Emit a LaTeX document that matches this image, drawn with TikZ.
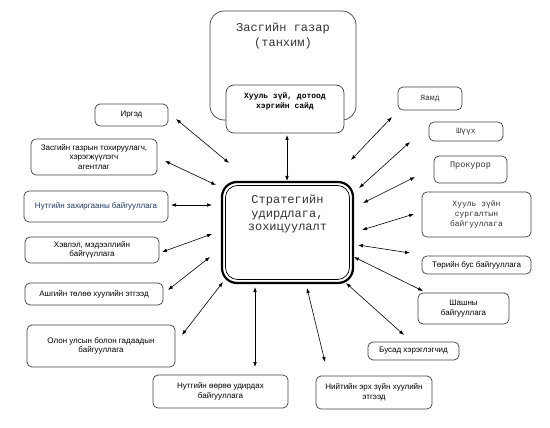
\documentclass[tikz,border=0pt]{standalone}
\usepackage{fontspec}
\setmainfont{Liberation Sans}
\newfontfamily\monof{Liberation Mono}
\usetikzlibrary{arrows.meta}
\definecolor{navy}{HTML}{1F3864}
\definecolor{edge}{HTML}{404040}
\definecolor{monotext}{HTML}{333333}
\tikzset{
  box/.style={draw=edge, line width=0.7pt, rounded corners=5pt, fill=white, inner sep=0pt},
  stxt/.style={font=\fontsize{8}{9.6}\selectfont, align=center, inner sep=0pt},
  mtxt/.style={font=\monof\fontsize{8}{10}\selectfont, align=center, inner sep=0pt, text=monotext},
  arr/.style={{Latex[length=5pt,width=3.6pt]}-{Latex[length=5pt,width=3.6pt]}, line width=0.6pt},
}
\begin{document}
\begin{tikzpicture}[x=1pt,y=-1pt]
\useasboundingbox (0,0) rectangle (550,428);
% top government box
\node[box, rounded corners=14pt, minimum width=146pt, minimum height=109pt] (gov) at (283,65.5) {};
\node[font=\monof\fontsize{12}{15}\selectfont, align=center, inner sep=0pt, text=monotext] (govt) at (283,36) {Засгийн газар\\(танхим)};
\node[box, rounded corners=8pt, minimum width=118pt, minimum height=48pt] (min) at (285,109) {};
\node[font=\monof\bfseries\fontsize{8}{10}\selectfont, align=center, inner sep=0pt] (mint) at (285,101) {Хууль зүй, дотоод\\хэргийн сайд};
% center box
\node[draw=black, line width=2.2pt, rounded corners=15pt, minimum width=131pt, minimum height=101pt, inner sep=0pt] (c) at (287.5,232.5) {};
\node[draw=black, line width=0.7pt, rounded corners=12pt, minimum width=124pt, minimum height=94pt, inner sep=0pt] (ci) at (287.5,232.5) {};
\node[font=\monof\fontsize{12}{13.5}\selectfont, align=center, inner sep=0pt, text=monotext] (ct) at (287.5,214) {Стратегийн\\удирдлага,\\зохицуулалт};
% left boxes
\node[box, minimum width=73pt, minimum height=22pt, stxt] (n1) at (131.5,115) {Иргэд};
\node[box, minimum width=126pt, minimum height=36pt, stxt] (n2) at (94,157) {Засгийн газрын тохируулагч,\\хэрэгжүүлэгч\\агентлаг};
\node[box, minimum width=144pt, minimum height=31pt, stxt, text=navy] (n3) at (96,206.5) {Нутгийн захиргааны байгууллага};
\node[box, minimum width=134pt, minimum height=26pt, stxt] (n4) at (92,250) {Хэвлэл, мэдээллийн\\байгүүллага};
\node[box, minimum width=138pt, minimum height=22pt, stxt] (n5) at (94,294) {Ашгийн төлөө хуулийн этгээд};
\node[box, minimum width=148pt, minimum height=42pt, stxt] (n6) at (101,346) {Олон улсын болон гадаадын\\байгууллага};
% bottom boxes
\node[box, minimum width=135pt, minimum height=33pt, stxt] (n7) at (220.5,391.5) {Нутгийн өөрөө удирдах\\байгууллага};
\node[box, minimum width=116pt, minimum height=33pt, stxt] (n8) at (374,392.5) {Нийтийн эрх зүйн хуулийн\\этгээд};
% right boxes
\node[box, minimum width=64pt, minimum height=23pt, mtxt] (n9) at (430,98.5) {Яамд};
\node[box, minimum width=74pt, minimum height=19pt, mtxt] (n10) at (466,131.5) {Шүүх};
\node[box, minimum width=73pt, minimum height=27pt] (n11) at (470.5,169.5) {};
\node[mtxt, font=\monof\fontsize{8.5}{10}\selectfont] (n11t) at (470.5,166) {Прокурор};
\node[box, minimum width=109pt, minimum height=45pt, mtxt] (n12) at (476.5,214.5) {Хууль зүйн\\сургалтын\\байгууллага};
\node[box, minimum width=109pt, minimum height=18pt, stxt] (n13) at (476.5,265) {Төрийн бус байгууллага};
\node[box, minimum width=91pt, minimum height=31pt, stxt] (n14) at (463.5,308.5) {Шашны\\байгууллага};
\node[box, minimum width=91pt, minimum height=18pt, stxt] (n15) at (413.5,351) {Бусад хэрэглэгчид};
% arrow end points
\coordinate (a0s) at (287,135); \coordinate (a0e) at (287,181);
\coordinate (a1s) at (176,119); \coordinate (a1e) at (229,163);
\coordinate (a2s) at (165,161); \coordinate (a2e) at (216,185);
\coordinate (a3s) at (171,205); \coordinate (a3e) at (212,205);
\coordinate (a4s) at (162,252); \coordinate (a4e) at (212,234);
\coordinate (a5s) at (168,290); \coordinate (a5e) at (210,257);
\coordinate (a6s) at (182,335); \coordinate (a6e) at (223,282);
\coordinate (a7s) at (255,287); \coordinate (a7e) at (255,367);
\coordinate (a8s) at (307,288); \coordinate (a8e) at (325,362);
\coordinate (a9s) at (351,160); \coordinate (a9e) at (392,117);
\coordinate (a10s) at (359,188); \coordinate (a10e) at (410,142);
\coordinate (a11s) at (363,203); \coordinate (a11e) at (415,177);
\coordinate (a12s) at (362,230); \coordinate (a12e) at (414,214);
\coordinate (a13s) at (358,245); \coordinate (a13e) at (410,253);
\coordinate (a14s) at (354,257); \coordinate (a14e) at (423,291);
\coordinate (a15s) at (346,283); \coordinate (a15e) at (404,335);
\foreach \i in {0,...,15} {\draw[arr] (a\i s) -- (a\i e);}
\end{tikzpicture}
\end{document}
